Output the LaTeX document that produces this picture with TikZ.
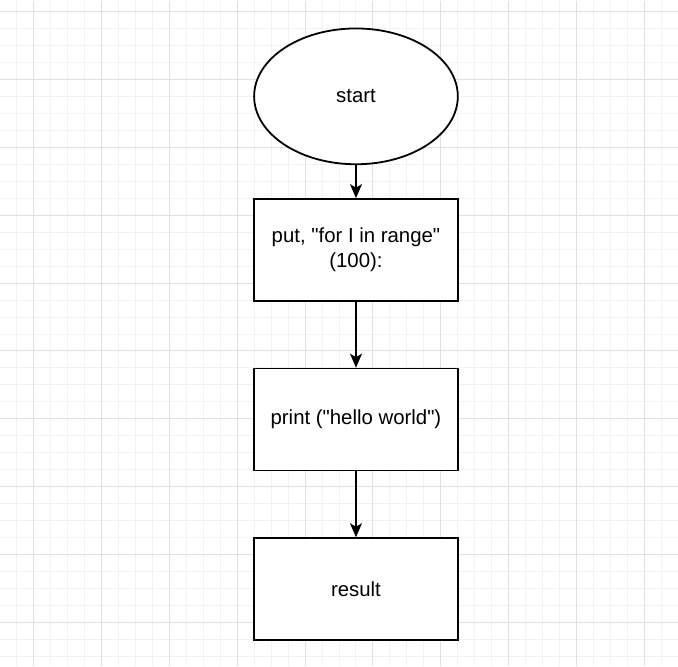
\documentclass[tikz,border=0pt]{standalone}
\usepackage{fontspec}
\setmainfont{Liberation Sans}
\usetikzlibrary{positioning,arrows.meta,shapes.geometric}

\begin{document}
\begin{tikzpicture}[x=1pt,y=-1pt,
    every node/.style={font=\fontsize{20.4}{24.5}\selectfont},
    term/.style={ellipse,draw=black,line width=1.8pt,fill=white,minimum width=204pt,minimum height=136pt,inner sep=0pt},
    stepbox/.style={rectangle,draw=black,line width=1.8pt,fill=white,minimum width=204pt,minimum height=102pt,align=center,inner sep=0pt},
    link/.style={-{Stealth[length=14pt,width=12pt,inset=3.5pt]},line width=1.8pt},
    minorline/.style={draw=black!5,line width=1pt},
    majorline/.style={draw=black!12,line width=1pt}]

  % background grid
  \fill[white] (0,0) rectangle (678,666);
  \foreach \i [evaluate=\i as \x using 16+17*\i] in {0,...,38}
   {
     \draw[minorline] (\x,0) -- (\x,666);
     \draw[minorline] (0,11+17*\i) -- (678,11+17*\i);
   }
  \foreach \i [evaluate=\i as \x using 33+68*\i] in {0,...,9}
   {
     \draw[majorline] (\x,0) -- (\x,666);
     \draw[majorline] (0,11+68*\i) -- (678,11+68*\i);
   }

  % flowchart
  \node (start) [term] at (356,96) {start};
  \node (loop) [stepbox,below=33pt of start] {put, \textquotedbl for I in range\textquotedbl\\(100):};
  \node (print) [stepbox,below=66pt of loop] {print (\textquotedbl hello world\textquotedbl)};
  \node (result) [stepbox,below=66pt of print] {result};

  \draw[link] (start) -- (loop);
  \draw[link] (loop) -- (print);
  \draw[link] (print) -- (result);

  \useasboundingbox (0,0) rectangle (678,666);
\end{tikzpicture}
\end{document}
